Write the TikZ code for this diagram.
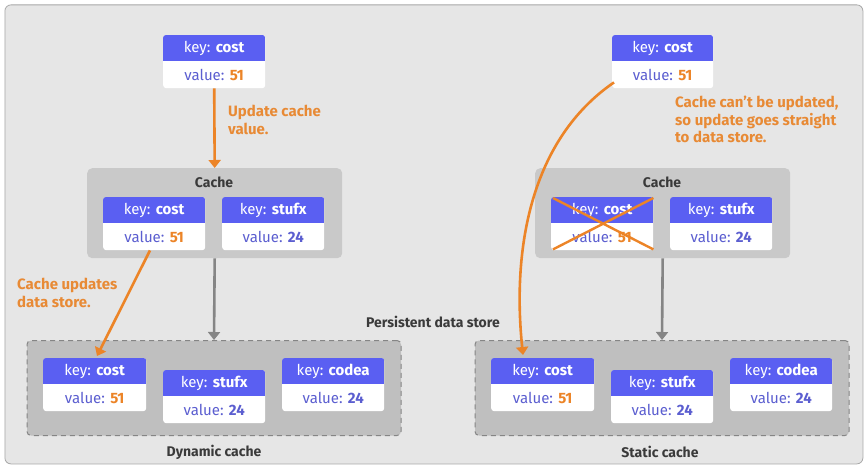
\documentclass[tikz,border=0pt]{standalone}
\usepackage{fontspec}
\setmainfont{Fira Sans}
\usetikzlibrary{arrows.meta,calc}
\definecolor{bgc}{HTML}{E6E6E6}
\definecolor{framec}{HTML}{A8A8A8}
\definecolor{cachec}{HTML}{C9C9C9}
\definecolor{storec}{HTML}{BFBFBF}
\definecolor{keyblue}{HTML}{5A5FF2}
\definecolor{valblue}{HTML}{5B5ED0}
\definecolor{orng}{HTML}{EC8427}
\definecolor{otext}{HTML}{E88A35}
\definecolor{grayarr}{HTML}{858585}
\definecolor{lbl}{HTML}{3A3A3A}
\tikzset{
  kvout/.style={fill=white, rounded corners=3pt, inner sep=0pt, minimum height=53pt},
  keytext/.style={text=white, font=\fontsize{15}{17}\selectfont, inner sep=0pt},
  valtext/.style={text=valblue, font=\fontsize{15}{17}\selectfont, inner sep=0pt},
  cachebox/.style={fill=cachec, rounded corners=5pt, inner sep=0pt, anchor=north west},
  storebox/.style={fill=storec, draw=grayarr, dashed, dash pattern=on 5pt off 4pt, line width=1pt, rounded corners=4pt, inner sep=0pt, anchor=north west},
  grptitle/.style={text=lbl, font=\bfseries\fontsize{14}{16}\selectfont, inner sep=0pt},
  note/.style={text=otext, font=\bfseries\fontsize{15}{17.5}\selectfont, align=left, anchor=north west, inner sep=0pt},
  oarrow/.style={draw=orng, line width=2.6pt, -{Triangle[length=8pt,width=12pt]}},
  garrow/.style={draw=grayarr, line width=2.6pt, -{Triangle[length=8pt,width=12pt]}},
  xline/.style={draw=orng, line width=2.4pt},
}
\newcommand\kvbox[6]{%
  \node[kvout, minimum width=#4, anchor=north west] (#1) at (#2,#3) {};
  \begin{scope}
    \clip[rounded corners=3pt] (#1.north west) rectangle (#1.south east);
    \fill[keyblue] (#1.north west) rectangle ($(#1.north east)+(0,26)$);
  \end{scope}
  \node[keytext] (#1k) at ($(#1.north)+(0,13)$) {key: \textbf{#5}};
  \node[valtext] (#1v) at ($(#1.south)+(0,-13)$) {value: \textbf{#6}};
}
\begin{document}
\begin{tikzpicture}[x=1pt,y=-1pt]
\useasboundingbox (0,0) rectangle (867,468);
\fill[white] (0,0) rectangle (867,468);
\node[fill=bgc, draw=framec, line width=0.8pt, rounded corners=6pt, minimum width=858pt, minimum height=459pt, anchor=north west, inner sep=0pt] (frame) at (4.5,4.5) {};

% ---------- left (dynamic) ----------
\kvbox{ltop}{163}{35}{102pt}{cost}{\textcolor{orng}{51}}
\node[cachebox, minimum width=255pt, minimum height=90pt] (lcache) at (87,168) {};
\node[grptitle] (lcachet) at (214,182) {Cache};
\kvbox{lc1}{103}{197}{102pt}{cost}{\textcolor{orng}{51}}
\kvbox{lc2}{222}{197}{102pt}{stufx}{24}
\node[storebox, minimum width=374pt, minimum height=95pt] (lstore) at (26.5,340) {};
\kvbox{ls1}{43}{358}{103pt}{cost}{\textcolor{orng}{51}}
\kvbox{ls2}{163}{370}{102pt}{stufx}{24}
\kvbox{ls3}{282}{358}{102pt}{codea}{24}
\node[grptitle] (lstoret) at (214,452) {Dynamic cache};

\draw[oarrow] (ltop.south) -- (lcache.north);
\node[note] (lnote1) at (228,105) {Update cache\\value.};
\draw[garrow] (lcache.south) -- (lstore.north);
\coordinate (lfrom) at ($(lc1.south west)+(47,0)$);
\draw[oarrow] (lfrom) -- ($(ls1.north west)+(54,-2)$);
\node[note] (lnote2) at (17,278) {Cache updates\\data store.};

\node[grptitle] (persist) at (433,322) {Persistent data store};

% ---------- right (static) ----------
\kvbox{rtop}{612}{35}{101pt}{cost}{\textcolor{orng}{51}}
\node[cachebox, minimum width=255pt, minimum height=90pt] (rcache) at (535,168) {};
\node[grptitle] (rcachet) at (662,182) {Cache};
\kvbox{rc1}{551}{197}{102pt}{cost}{\textcolor{orng}{51}}
\kvbox{rc2}{670}{197}{102pt}{stufx}{24}
\node[storebox, minimum width=374pt, minimum height=95pt] (rstore) at (474.5,340) {};
\kvbox{rs1}{491}{358}{103pt}{cost}{\textcolor{orng}{51}}
\kvbox{rs2}{611}{370}{102pt}{stufx}{24}
\kvbox{rs3}{730}{358}{102pt}{codea}{24}
\node[grptitle] (rstoret) at (660,452) {Static cache};

\draw[xline] ($(rc1.north west)+(2,1)$) -- ($(rc1.south east)+(0,-1)$);
\draw[xline] ($(rc1.south west)+(2,-1)$) -- ($(rc1.north east)+(0,1)$);
\draw[garrow] (rcache.south) -- (rstore.north);
\node[note] (rnote) at (675,96) {Cache can't be updated,\\so update goes straight\\to data store.};
\coordinate (rfrom) at ($(rtop.south west)+(2,-6)$);
\draw[oarrow] (rfrom) .. controls (530,140) and (512,250) .. ($(rs1.north west)+(32,-3)$);
\end{tikzpicture}
\end{document}
